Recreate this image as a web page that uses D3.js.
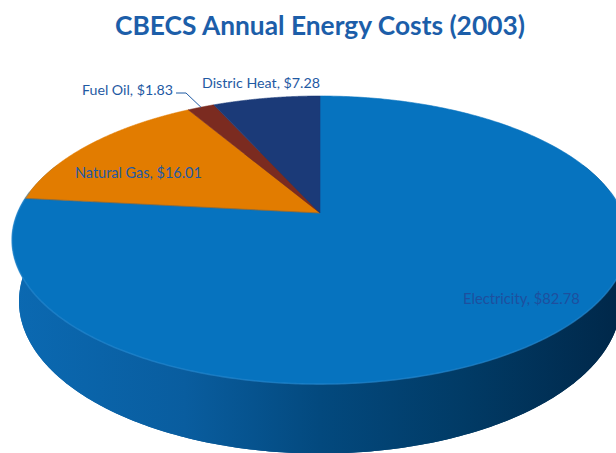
<!DOCTYPE html>
<html>
<head>
<meta charset="utf-8">
<script src="https://cdn.jsdelivr.net/npm/d3@7"></script>
<style>
  html, body { margin: 0; padding: 0; background: #ffffff; }
  svg { display: block; }
</style>
</head>
<body>
<svg id="chart" width="616" height="453"></svg>
<script>
// CBECS 2003 annual energy costs by fuel
const categories = ["Electricity", "Natural Gas", "Fuel Oil", "Distric Heat"];
const costs = [82.78, 16.01, 1.83, 7.28];
const sliceColors = ["#0673BF", "#E27C00", "#7B2B20", "#1B3A78"];
const chartTitle = "CBECS Annual Energy Costs (2003)";

const svg = d3.select("#chart");
const W = 616, H = 453;

// ---- 3D disk projection (perspective view of a flat cylinder) ----
const cx = 320, cy = 213;        // screen position of the disk centre (top face)
const scale = 302.5;             // pixels per unit radius at the centre depth
const camDist = 4.73;            // camera distance in radius units
const sinT = 0.4594, cosT = Math.sqrt(1 - sinT * sinT);   // view elevation
const thickness = 0.23;          // cylinder height in radius units

function project(a, h, r = 1) {
  const x3 = r * Math.sin(a);
  const z3 = -r * Math.cos(a);             // angle 0 points away from the viewer
  const yc = h * cosT - z3 * sinT;
  const zc = h * sinT + z3 * cosT;
  const f = camDist / (camDist - zc);
  return [cx + scale * x3 * f, cy - scale * yc * f];
}

const ring = (a0, a1, h) => d3.range(0, 1.0001, 1 / 360)
  .map(t => project(a0 + (a1 - a0) * t, h));

const line = d3.line();

// side shading: light on the left, dark toward the right
const defs = svg.append("defs");
const sideGrad = defs.append("linearGradient")
  .attr("id", "sideGrad").attr("gradientUnits", "userSpaceOnUse")
  .attr("x1", 0).attr("y1", 0).attr("x2", W).attr("y2", 0);
[[0, "#0B6AB3"], [0.3, "#095D9F"], [0.52, "#03497E"], [0.75, "#013B66"], [1, "#00284A"]]
  .forEach(([o, c]) => sideGrad.append("stop").attr("offset", o).attr("stop-color", c));

const pie = d3.pie().sort(null).value(d => d)
  .startAngle(0).endAngle(2 * Math.PI);
const arcs = pie(costs);

const g = svg.append("g");

// bottom face and the curved outer wall
g.append("path")
  .attr("d", line(ring(0, 2 * Math.PI, -thickness)) + "Z")
  .attr("fill", "url(#sideGrad)");
const a0 = Math.PI * 0.38, a1 = Math.PI * 1.62;
const wall = ring(a0, a1, 0).concat(ring(a1, a0, -thickness));
g.append("path")
  .attr("d", line(wall) + "Z")
  .attr("fill", "url(#sideGrad)");

// top face slices
arcs.forEach((d, i) => {
  const pts = [project(0, 0, 0)].concat(ring(d.startAngle, d.endAngle, 0));
  g.append("path")
    .attr("d", line(pts) + "Z")
    .attr("fill", sliceColors[i])
    .attr("stroke", sliceColors[i])
    .attr("stroke-width", 0.6)
    .attr("stroke-linejoin", "round");
});

// thin seam between electricity and natural gas
g.append("path")
  .attr("d", line([project(0, 0, 0), project(arcs[0].endAngle, 0)]))
  .attr("stroke", "#4a5a6a")
  .attr("stroke-opacity", 0.45)
  .attr("stroke-width", 0.8);

// faint highlight along the front rim of the top face
g.append("path")
  .attr("d", line(ring(Math.PI * 0.45, Math.PI * 1.55, 0)))
  .attr("fill", "none")
  .attr("stroke", "#3A94D8")
  .attr("stroke-opacity", 0.4)
  .attr("stroke-width", 1.6);

// ---- text ----
function fitWidth(sel, target) {
  const w = sel.node().getComputedTextLength();
  const fs = parseFloat(sel.attr("font-size"));
  sel.attr("font-size", fs * target / w);
  return sel;
}

const title = svg.append("text")
  .attr("x", 320).attr("y", 35)
  .attr("text-anchor", "middle")
  .attr("font-family", "Lato, 'Open Sans', sans-serif")
  .attr("font-weight", "bold")
  .attr("font-size", 28)
  .attr("fill", "#1C5EA9")
  .text(chartTitle);
fitWidth(title, 410);

// label anchors (left edge, baseline, width)
const labelLayout = {
  "Electricity":  { x: 463, y: 304, w: 117, color: "#1E4F9E" },
  "Natural Gas":  { x: 75,  y: 178, w: 127, color: "#1F5AA3" },
  "Fuel Oil":     { x: 82,  y: 95,  w: 91,  color: "#1F5AA3" },
  "Distric Heat": { x: 202, y: 88,  w: 118, color: "#1F5AA3" }
};

categories.forEach((c, i) => {
  const L = labelLayout[c];
  const t = svg.append("text")
    .attr("x", L.x).attr("y", L.y)
    .attr("font-family", "Lato, 'Open Sans', sans-serif")
    .attr("font-size", 14)
    .attr("fill", L.color)
    .text(`${c}, $${d3.format(".2f")(costs[i])}`);
  fitWidth(t, L.w);
});

// leader line from the fuel oil label to its thin slice
const fo = arcs[2];
const foEdge = project((fo.startAngle + fo.endAngle) / 2, 0, 1.0);
svg.append("path")
  .attr("d", line([[176, 93], [186, 93], foEdge]))
  .attr("fill", "none")
  .attr("stroke", "#1F5AA3")
  .attr("stroke-width", 1);
</script>
</body>
</html>
